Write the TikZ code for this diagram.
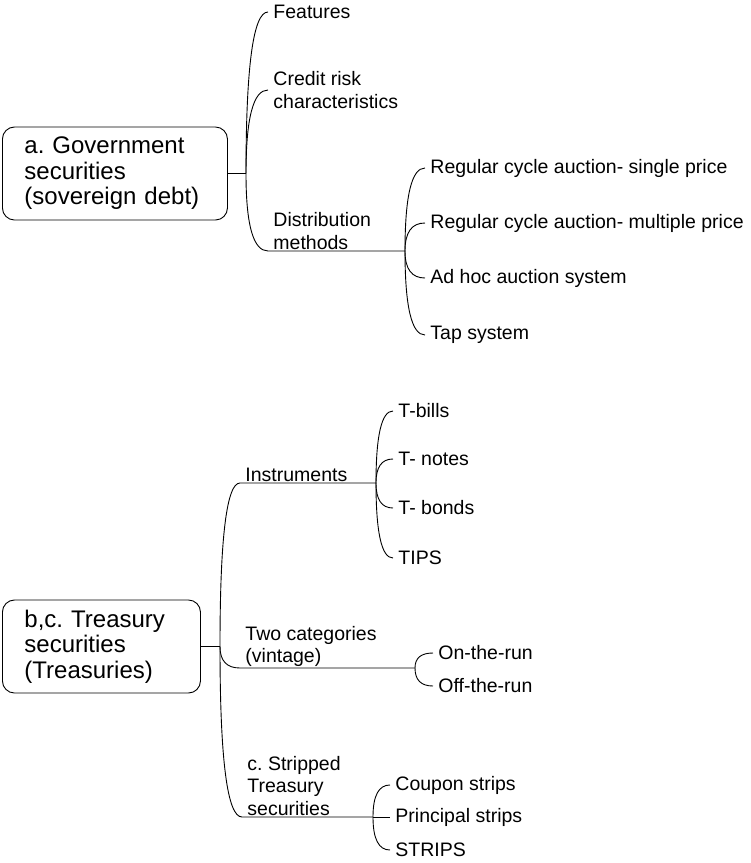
\documentclass[tikz,border=0pt]{standalone}
\usepackage{fontspec}
\setmainfont{Liberation Sans}
\usepackage{tikz}
\usetikzlibrary{calc}
\frenchspacing

\newcommand{\branch}[2]{\draw (#1) .. controls ($(#1)!0.667!(#1 |- #2)$) and ($(#2)!0.667!(#1 |- #2)$) .. (#2)}

\begin{document}
\begin{tikzpicture}[x=1pt,y=-1pt,line width=0.9pt,
  topic/.style={draw,rounded corners=12pt,anchor=west,align=left,inner xsep=22pt,minimum height=93pt,font=\fontsize{24}{25.5}\selectfont},
  leaf/.style={anchor=west,align=left,inner xsep=5pt,inner ysep=1pt,font=\fontsize{19.5}{22.5}\selectfont},
  head/.style={leaf,anchor=south west}]
  \useasboundingbox (0,0) rectangle (751,863);
  \node (gov) at (2,173.5) [topic,text width=181pt] {a. Government\\securities\\(sovereign debt)};
  \coordinate (g0) at (246,173.5);
  \node (feat) at (268,12) [leaf] {Features};
  \node (cred) at (268,90) [leaf] {Credit risk\\characteristics};
  \node (dist) at (268,251) [head] {Distribution\\methods};
  \coordinate (d0) at (405,251);
  \node (d1) at (425,168) [leaf] {Regular cycle auction- single price};
  \node (d2) at (425,223) [leaf] {Regular cycle auction- multiple price};
  \node (d3) at (425,278) [leaf] {Ad hoc auction system};
  \node (d4) at (425,335) [leaf] {Tap system};
  \node (tre) at (2,646.5) [topic,text width=154pt] {b,c. Treasury\\securities\\(Treasuries)};
  \coordinate (t0) at (220,646.5);
  \node (inst) at (240,483) [head] {Instruments};
  \coordinate (i0) at (376,483);
  \node (i1) at (393,411) [leaf] {T-bills};
  \node (i2) at (393,459) [leaf] {T- notes};
  \node (i3) at (393,508) [leaf] {T- bonds};
  \node (i4) at (393,558) [leaf] {TIPS};
  \node (cat) at (240,668) [head] {Two categories\\(vintage)};
  \coordinate (c0) at (415,668);
  \node (c1) at (433,653) [leaf] {On-the-run};
  \node (c2) at (433,686) [leaf] {Off-the-run};
  \node (strp) at (242,817) [head] {c. Stripped\\Treasury\\securities};
  \coordinate (s0) at (373,817);
  \node (s1) at (390,785) [leaf] {Coupon strips};
  \node (s2) at (390,817) [leaf] {Principal strips};
  \node (s3) at (390,850) [leaf] {STRIPS};
  \draw (gov) -- (g0);
  \draw (tre) -- (t0);
  \branch{g0}{feat.west};
  \branch{g0}{cred.west};
  \branch{g0}{dist.south west} -- (d0);
  \foreach \n in {d1,d2,d3,d4} {\branch{d0}{\n.west};}
  \branch{t0}{inst.south west} -- (i0);
  \branch{t0}{cat.south west} -- (c0);
  \branch{t0}{strp.south west} -- (s0);
  \foreach \n in {i1,i2,i3,i4} {\branch{i0}{\n.west};}
  \foreach \n in {c1,c2} {\branch{c0}{\n.west};}
  \foreach \n in {s1,s2,s3} {\branch{s0}{\n.west};}
\end{tikzpicture}
\end{document}
